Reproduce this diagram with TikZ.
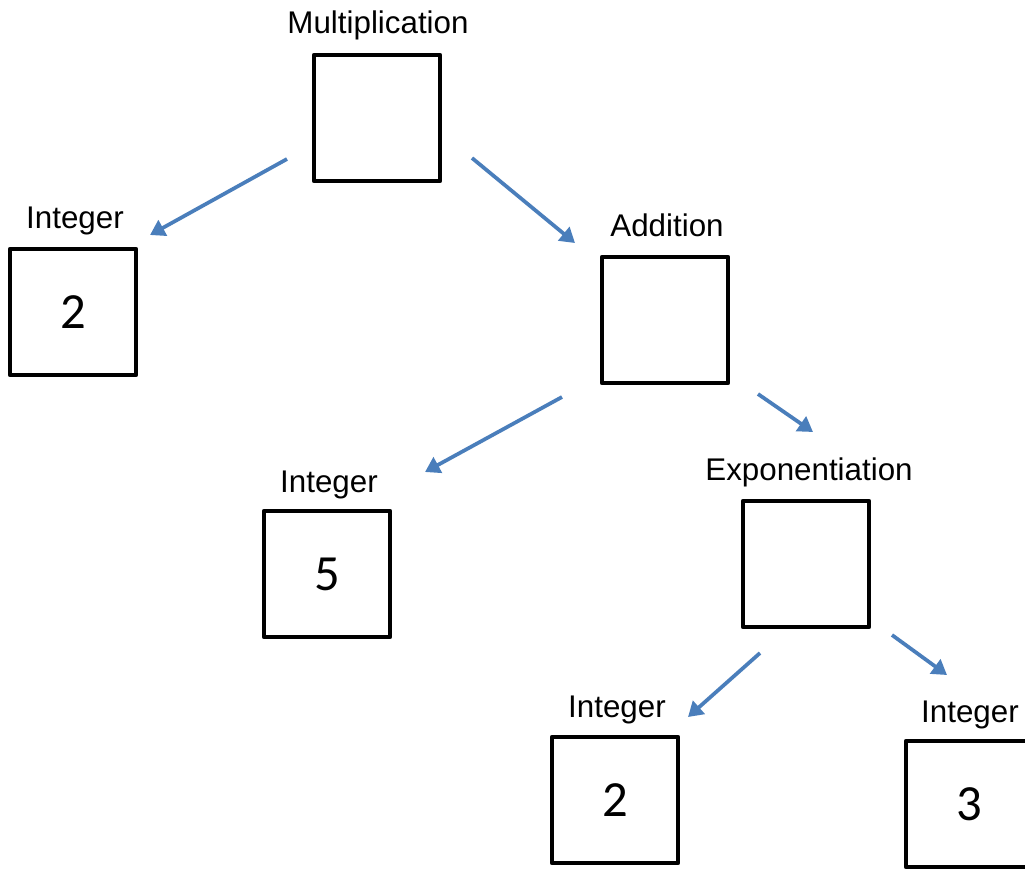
\documentclass[tikz,border=0pt]{standalone}
\usepackage{fontspec}
\setmainfont{Liberation Sans}
\newfontfamily\digitfont{Carlito}
\usetikzlibrary{arrows.meta}
\begin{document}
\begin{tikzpicture}[x=0.75pt,y=-0.75pt,
  valbox/.style={draw=black,line width=3.2pt,line join=round,minimum size=94.5pt,inner sep=0pt,
    font=\digitfont\fontsize{38pt}{38pt}\selectfont},
  typelabel/.style={anchor=base,inner sep=0pt,font=\fontsize{23.5pt}{23.5pt}\selectfont},
  edge/.style={draw={rgb,255:red,74;green,126;blue,187},line width=2.8pt,
    -{Triangle[length=11pt,width=13pt]}}]
\useasboundingbox (0,0) rectangle (1025,869);
\fill[white] (0,0) rectangle (1025,869);

% operator and operand boxes
\node[valbox] (mul) at (377,118) {};
\node[valbox] (intA) at (73,312) {2};
\node[valbox] (add) at (665,320) {};
\node[valbox] (intB) at (327,574) {5};
\node[valbox] (pow) at (806,564) {};
\node[valbox] (intC) at (615,800) {2};
\node[valbox] (intD) at (969,804) {3};

% type names above the boxes
\node[typelabel] (lmul) at (378,33) {Multiplication};
\node[typelabel] (lintA) at (75,228) {Integer};
\node[typelabel] (ladd) at (667,236) {Addition};
\node[typelabel] (lintB) at (329,492) {Integer};
\node[typelabel] (lpow) at (809,480) {Exponentiation};
\node[typelabel] (lintC) at (617,717) {Integer};
\node[typelabel] (lintD) at (970,722) {Integer};

% free-standing arrow ends
\coordinate (m1) at (287,159);  \coordinate (a1) at (150,235);
\coordinate (m2) at (472,158);  \coordinate (a2) at (575,243);
\coordinate (d1) at (562,397);  \coordinate (b1) at (425,472);
\coordinate (d2) at (758,394);  \coordinate (b2) at (813,432);
\coordinate (p1) at (760,653);  \coordinate (c1) at (688,717);
\coordinate (p2) at (892,635);  \coordinate (c2) at (947,675);

\draw[edge] (m1) -- (a1);
\draw[edge] (m2) -- (a2);
\draw[edge] (d1) -- (b1);
\draw[edge] (d2) -- (b2);
\draw[edge] (p1) -- (c1);
\draw[edge] (p2) -- (c2);
\end{tikzpicture}
\end{document}
